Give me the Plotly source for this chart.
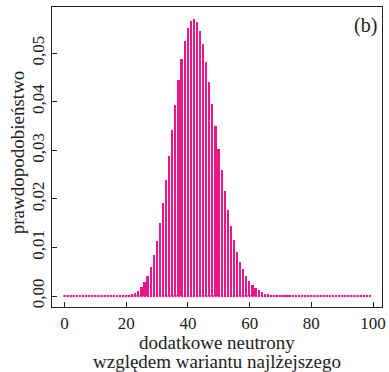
import plotly.graph_objects as go

# additional neutrons (relative to the lightest variant)
neutrons = list(range(0, 100))
# probability
probability = (
    [0.0] * 18
    + [0.00007, 0.00012, 0.00016, 0.00025, 0.00038, 0.00064, 0.0011, 0.0018,
       0.0028, 0.0042, 0.0060, 0.0084, 0.0114, 0.0150, 0.0192, 0.0239,
       0.0289, 0.0342, 0.0394, 0.0444, 0.0487, 0.0524, 0.0551, 0.0567,
       0.0571, 0.0564, 0.0545, 0.0518, 0.0482, 0.0441, 0.0396, 0.0350,
       0.0303, 0.0259, 0.0217, 0.0178, 0.0145, 0.0116, 0.0091, 0.0071,
       0.0055, 0.0041, 0.0030, 0.0022, 0.0016, 0.0012, 0.0008, 0.0005,
       0.0004, 0.0003, 0.0002, 0.00014, 0.0001, 0.00007, 0.00005, 0.00003]
    + [0.0] * 26
)
x_ticks = [0, 20, 40, 60, 80, 100]
y_ticks = [0.00, 0.01, 0.02, 0.03, 0.04, 0.05]

BAR = "#E8178A"
INK = "#222222"
FONT = "Liberation Serif"

fig = go.Figure()
fig.add_trace(go.Bar(x=neutrons, y=probability, width=0.55,
                     marker=dict(color=BAR, line=dict(width=0))))
fig.add_trace(go.Scatter(x=neutrons, y=[0.0] * len(neutrons), mode="markers",
                         marker=dict(symbol="square", size=2.2, color=BAR,
                                     line=dict(width=0))))

fig.update_layout(
    width=389, height=372,
    margin=dict(l=52, r=3, t=7, b=65),
    paper_bgcolor="white", plot_bgcolor="white",
    showlegend=False, bargap=0,
    separators=",.",
    font=dict(family=FONT, size=17, color=INK),
    xaxis=dict(range=[-4.06, 102.9], tickvals=x_ticks, ticks="inside",
               ticklen=5, tickwidth=1.2, tickcolor=INK, showline=True,
               linecolor=INK, linewidth=1.3, mirror=True, showgrid=False,
               zeroline=False, ticklabeloverflow="allow",
               tickfont=dict(family=FONT, size=17, color=INK)),
    yaxis=dict(range=[-0.00226, 0.0595], tickvals=y_ticks, tickformat=".2f",
               ticks="inside", ticklen=5, tickwidth=1.2, tickcolor=INK,
               showline=True, linecolor=INK, linewidth=1.3, mirror=True,
               showgrid=False, zeroline=False, tickangle=-90,
               ticklabelstandoff=0,
               tickfont=dict(family=FONT, size=17, color=INK)),
    annotations=[
        dict(text="prawdopodobieństwo", xref="paper", yref="paper",
             x=-0.102, y=0.517, textangle=-90, showarrow=False,
             xanchor="center", yanchor="middle",
             font=dict(family=FONT, size=19, color=INK)),
        dict(text="dodatkowe neutrony", xref="paper", yref="paper",
             x=0.5, y=-0.118, showarrow=False, xanchor="center",
             yanchor="middle", borderpad=0,
             font=dict(family=FONT, size=19, color=INK)),
        dict(text="względem wariantu najlżejszego", xref="paper",
             yref="paper", x=0.5, y=-0.181, showarrow=False,
             xanchor="center", yanchor="middle", borderpad=0,
             font=dict(family=FONT, size=19, color=INK)),
        dict(text="(b)", xref="paper", yref="paper", x=0.949, y=0.94,
             showarrow=False, xanchor="center", yanchor="middle",
             font=dict(family=FONT, size=20, color=INK)),
    ],
)

fig.write_html("out.html", config={"displayModeBar": False},
               post_script="document.body.style.margin='0';")
